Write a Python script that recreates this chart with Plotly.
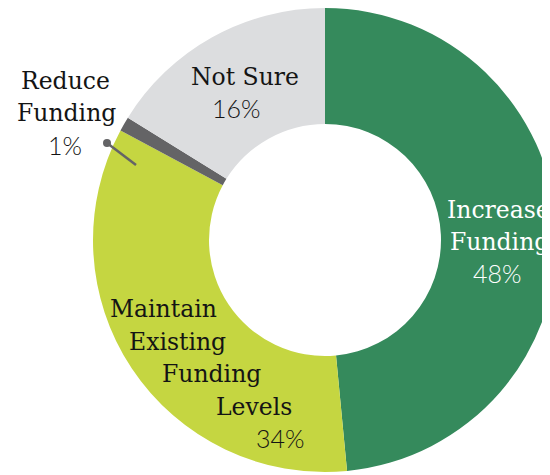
import plotly.graph_objects as go

categories = ["Increase Funding", "Maintain Existing Funding Levels", "Reduce Funding", "Not Sure"]
values = [48, 34, 1, 16]
pct_labels = ["48%", "34%", "1%", "16%"]
colors = ["#358A5C", "#C5D641", "#646466", "#DCDDDF"]

W, H = 550, 475
OFF = 8  # page body margin offset


def px(x):
    return (x - OFF) / W


def py(y):
    return 1 - (y - OFF) / H


fig = go.Figure(go.Pie(
    labels=categories,
    values=values,
    marker=dict(colors=colors, line=dict(width=0)),
    hole=0.5,
    sort=False,
    direction="clockwise",
    rotation=0,
    textinfo="none",
    hoverinfo="skip",
    showlegend=False,
    domain=dict(x=[84 / W, 1], y=[1 - 464 / H, 1]),
))

NAME_FONT = "DejaVu Serif"
PCT_FONT = "Lato"
DARK = "#141414"
anns = []


def add(text, x, y, color=DARK, size=23.5, family=NAME_FONT, weight=400):
    anns.append(dict(text=text, x=px(x), y=py(y), xref="paper", yref="paper",
                     showarrow=False, xanchor="center", yanchor="middle",
                     font=dict(family=family, size=size, color=color, weight=weight)))


def pct(text, x, y, color=DARK):
    add(text, x, y, color=color, size=25, family=PCT_FONT, weight=300)


# Increase Funding
add("Increase", 498, 210, color="white")
add("Funding", 499, 242, color="white")
pct(pct_labels[0], 497, 273, color="white")
# Not Sure
add("Not Sure", 245, 77)
pct(pct_labels[3], 236, 108)
# Reduce Funding
add("Reduce", 65, 81)
add("Funding", 66, 113)
pct(pct_labels[2], 65, 145)
# Maintain Existing Funding Levels
add("Maintain", 163, 309)
add("Existing", 177, 342)
add("Funding", 211, 374)
add("Levels", 254, 407)
pct(pct_labels[1], 280, 438)

shapes = [
    dict(type="line", xref="paper", yref="paper", x0=px(107), y0=py(143), x1=px(136), y1=py(165),
         line=dict(color="#646466", width=2.5)),
    dict(type="circle", xref="paper", yref="paper", x0=px(103), y0=py(139), x1=px(111), y1=py(147),
         fillcolor="#646466", line=dict(width=0)),
]

fig.update_layout(
    width=W, height=H,
    margin=dict(l=0, r=0, t=0, b=0, pad=0),
    paper_bgcolor="white", plot_bgcolor="white",
    annotations=anns, shapes=shapes,
)

fig.write_html("out.html")
